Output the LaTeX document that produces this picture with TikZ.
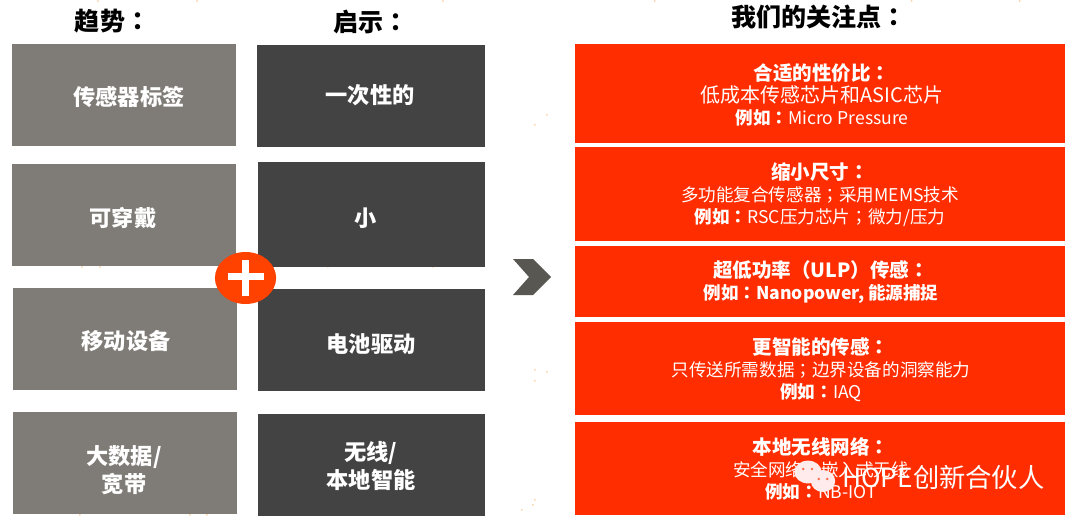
\documentclass[tikz,border=0pt]{standalone}
\usepackage{fontspec}
\setmainfont{Noto Sans CJK SC}
\newfontfamily\tcfont{Noto Sans CJK TC}
\usetikzlibrary{positioning,shapes.geometric}
\definecolor{trendgray}{HTML}{7F7B76}
\definecolor{hintdark}{HTML}{434343}
\definecolor{focusred}{HTML}{FF2D00}
\definecolor{plusred}{HTML}{FF4200}
\definecolor{chevgray}{HTML}{595752}
\newcommand{\fwcolon}{{\tcfont ：}}
\newcommand{\fwsemi}{{\tcfont ；}}
\begin{document}
\begin{tikzpicture}[
  box/.style={inner sep=0pt,minimum height=2.55cm},
  trend/.style={box,fill=trendgray,minimum width=5.6cm},
  hint/.style={box,fill=hintdark,minimum width=5.68cm},
  focus/.style={inner sep=0pt,fill=focusred,minimum width=12.25cm},
  boxtext/.style={text=white,align=center,font=\bfseries\fontsize{15.8}{20.3}\selectfont},
  focustext/.style={text=white,align=center,font=\fontsize{12.5}{15.7}\selectfont},
  head/.style={font=\bfseries\fontsize{17.8}{20}\selectfont},
]
\useasboundingbox (0,0) rectangle (27,13.125);
% specks
\foreach \x/\y in {82/135,90/125,207/117,195/135,215/135,320/125,328/117,320/135,425/125,435/125,443/135,100/250,82/267,100/267,200/258,210/258,310/241,320/241,330/241,328/267,425/250,433/258,433/267,98/1,197/1,443/1,655/1,912/1,1020/1,547/115,535/125,535/381,547/372,535/370,533/505,522/510,535/500,92/375,85/388,200/376,190/388,310/370,318/378,327/378,425/378,433/378,443/388,85/505,80/515,190/515,207/515,200/500,327/496,318/507,425/507,433/507}
  \fill[orange!80!brown,opacity=.45] (\x*0.025,13.125-\y*0.025) circle (0.022);
% titles
\node[head] (t1) at (2.813,12.600) {趋势\fwcolon};
\node[head] (t2) at (9.275,12.575) {启示\fwcolon};
\node[head] (t3) at (20.475,12.700) {我们的关注点\fwcolon};
% left column
\node[trend] (g1) at (3.088,10.750) {};
\node[trend] (g2) at (3.100,7.738) {};
\node[trend] (g3) at (3.125,4.650) {};
\node[trend] (g4) at (3.125,1.550) {};
\node[boxtext] (gt1) at (3.225,10.700) {传感器标签};
\node[boxtext] (gt2) at (3.075,7.675) {可穿戴};
\node[boxtext] (gt3) at (3.150,4.600) {移动设备};
\node[boxtext] (gt4) at (3.100,1.375) {大数据/\\宽带};
% middle column
\node[hint] (d1) at (9.275,10.725) {};
\node[hint,minimum height=2.625cm] (d2) at (9.288,7.763) {};
\node[hint] (d3) at (9.288,4.625) {};
\node[hint] (d4) at (9.288,1.500) {};
\node[boxtext] (dt1) at (9.250,10.750) {一次性的};
\node[boxtext] (dt2) at (9.150,7.675) {小};
\node[boxtext] (dt3) at (9.275,4.525) {电池驱动};
\node[boxtext] (dt4) at (9.275,1.475) {无线/\\本地智能};
% plus
\node[ellipse,fill=plusred,minimum width=1.53cm,minimum height=1.3cm,inner sep=0pt] (plus) at (6.138,6.175) {};
\draw[white,line width=4.8pt] ([xshift=-0.45cm,yshift=0.03cm]plus.center) -- ([xshift=0.45cm,yshift=0.03cm]plus.center);
\draw[white,line width=5.6pt] ([yshift=-0.46cm]plus.center) -- ([yshift=0.46cm]plus.center);
% chevron
\fill[chevgray] (12.825,6.650) -- (13.325,6.650) -- (13.775,6.200) -- (13.325,5.750) -- (12.825,5.750) -- (13.225,6.200) -- cycle;
% right column
\node[focus,minimum height=2.475cm] (r1) at (20.500,10.788) {};
\node[focus,minimum height=2.35cm] (r2) at (20.500,8.275) {};
\node[focus,minimum height=1.775cm] (r3) at (20.500,6.088) {};
\node[focus,minimum height=2.325cm] (r4) at (20.500,3.913) {};
\node[focus,minimum height=2.325cm] (r5) at (20.500,1.413) {};
\node[focustext] (rt1) at (20.550,10.750) {{\bfseries\fontsize{13.9}{15.7}\selectfont 合适的性价比\fwcolon}\\{\fontsize{14.2}{15.7}\selectfont 低成本传感芯片和ASIC芯片}\\\textbf{例如\fwcolon}Micro Pressure};
\node[focustext] (rt2) at (20.500,8.250) {{\bfseries\fontsize{13.9}{15.7}\selectfont 缩小尺寸\fwcolon}\\多功能复合传感器\fwsemi 采用MEMS技术\\\textbf{例如\fwcolon}RSC压力芯片\fwsemi 微力/压力};
\node[focustext] (rt3) at (20.525,6.063) {{\bfseries\fontsize{13.9}{15.7}\selectfont 超低功率（ULP）传感\fwcolon}\\\textbf{例如\fwcolon Nanopower, 能源捕捉}};
\node[focustext] (rt4) at (20.525,3.888) {{\bfseries\fontsize{13.9}{15.7}\selectfont 更智能的传感\fwcolon}\\只传送所需数据\fwsemi 边界设备的洞察能力\\\textbf{例如\fwcolon}IAQ};
\node[focustext] (rt5) at (20.525,1.400) {{\bfseries\fontsize{13.9}{15.7}\selectfont 本地无线网络\fwcolon}\\安全网络\fwsemi 嵌入式无线\\\textbf{例如\fwcolon}NB-IOT};
% watermark
\fill[white!92!red] (20.200,1.325) ellipse (0.340 and 0.285);
\fill[white!92!red] (20.575,1.100) ellipse (0.305 and 0.275);
\foreach \x/\y in {20.080/1.400,20.300/1.400,20.470/1.150,20.680/1.150}
  \fill[focusred!70!white] (\x,\y) circle (0.035);
\node[text=white,inner sep=0pt,anchor=west,font=\fontsize{18.7}{20}\selectfont] (mark) at (21.050,1.200) {HOPE创新合伙人};
\end{tikzpicture}
\end{document}
